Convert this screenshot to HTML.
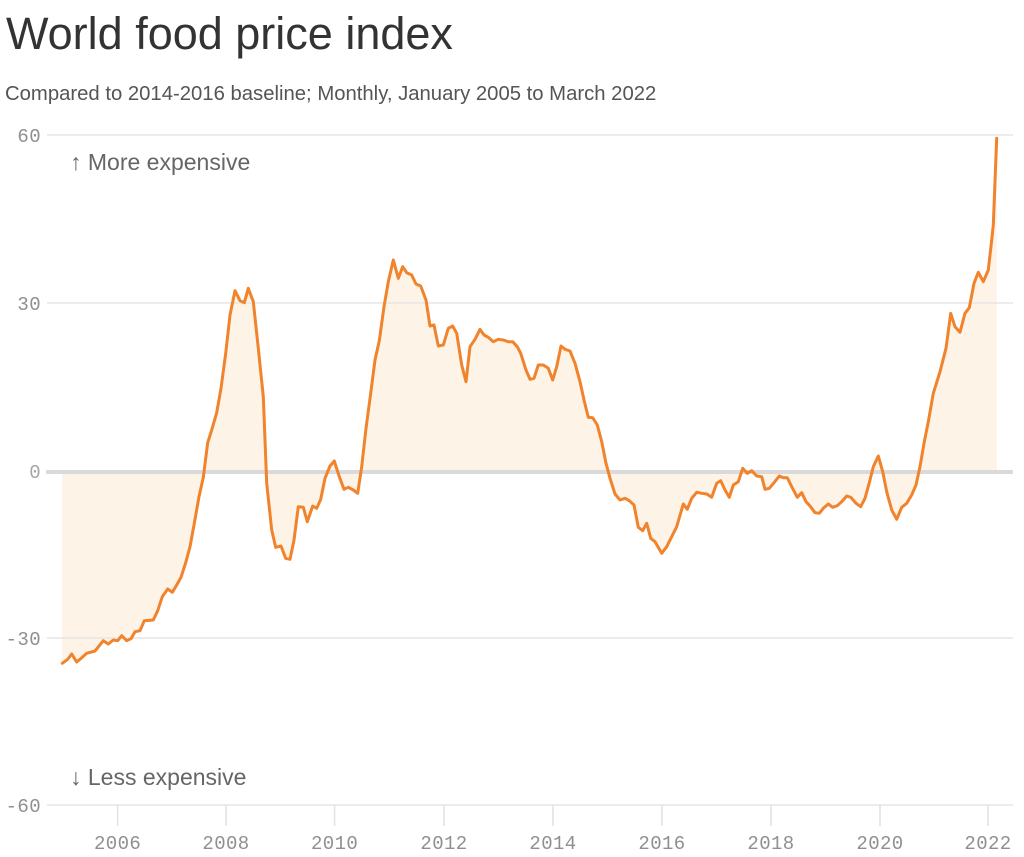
<!DOCTYPE html>
<html>
<head>
<meta charset="utf-8">
<style>
  html,body{margin:0;padding:0;background:#fff;}
  body{width:1024px;height:857px;overflow:hidden;position:relative;}
  svg{position:absolute;left:0;top:0;}
</style>
</head>
<body>
<svg width="1024" height="857" viewBox="0 0 1024 857" xmlns="http://www.w3.org/2000/svg">
  <text x="6" y="49" font-family="Liberation Sans, sans-serif" font-size="45" fill="#333">World food price index</text>
  <text x="5" y="100" font-family="Liberation Sans, sans-serif" font-size="20.3" fill="#555">Compared to 2014-2016 baseline; Monthly, January 2005 to March 2022</text>

  <!-- fill -->
  <path fill="#fdf3e7" d="M62.3,471 L62.3,663.3 L67.7,659.3 L71.7,654 L76.7,662 L81.7,657.7 L86.7,653.3 L95,651 L103.3,640.7 L108.3,644 L113.3,640 L117.7,640.7 L121.7,635.7 L126.7,640.7 L131,638.7 L135,631.7 L140,630.7 L144.3,620.7 L153.3,620 L157.7,610.7 L162.3,596.7 L167.7,589 L172.3,592.3 L176.7,585 L181,577.3 L185.7,562.7 L190,546.7 L194.3,523.3 L199,496.7 L203.3,477.3 L207.7,442.7 L211.7,430 L216.7,412.7 L221,388.3 L225.7,353.3 L230,315 L235,290.7 L240,300.7 L244.3,302.7 L248.3,288.3 L253.3,301.7 L258.3,348.3 L263.3,396.7 L266.7,483.3 L271.7,530 L275.7,547.3 L281,546 L285.7,558.3 L290,559.3 L294,540 L298.3,506.7 L303.3,507.3 L307.3,521.7 L312.7,506 L316.7,508.3 L320.7,499.3 L325,478.3 L330,466 L334.3,461 L339.3,476.7 L344,489.3 L348.3,487.3 L353.3,490 L357.7,493.3 L361.7,466.7 L366,428.3 L370.7,393.3 L375,360 L379.3,340.7 L384,306.7 L388.3,281.7 L393.3,260 L398.3,278.3 L402.7,266.7 L406.7,272.7 L411.7,275 L416,284 L420.7,286 L426,300 L430,326 L434,325 L438.3,346 L443.3,345 L448.3,328.3 L452.7,326 L456.7,333.3 L461.7,365 L466,381.7 L470,346.7 L475,339.3 L480,329.3 L484,335 L488.3,337.3 L493.3,341.7 L498.3,339.3 L503.3,340 L508.3,341.7 L512.7,341.7 L517.3,346.7 L520.7,353.3 L526,370 L530,379.3 L534,378.3 L538.3,365 L543.3,365 L548.3,368.3 L552.7,380 L556.7,366.7 L561,346 L565,349.3 L570,351 L575,363.3 L580,381.7 L584,400 L588.3,417.3 L592.7,417.7 L597.3,425 L601.7,441.7 L606,463.3 L610,478.3 L615,494 L620,500 L625,498.3 L629.3,500.7 L634,505 L638.3,527.3 L642.7,530.7 L646.7,523.3 L650.7,538.3 L655,541.7 L661.7,553.3 L666.7,546.7 L671.7,536.7 L676.7,526.7 L683.3,504 L687.3,509.3 L691.7,498.3 L696.7,492.3 L701.7,493.3 L706.7,494 L711.7,497.3 L716.7,483.3 L720.7,480.7 L725,490 L729.3,497.3 L733.3,485 L738.3,481.7 L742.7,468.3 L747.3,473.3 L751.7,470.7 L756.7,476 L761.7,476.7 L765,489.3 L769.3,488.3 L774,482.7 L779.3,476 L783.3,477.7 L787.3,477.7 L791.7,486.7 L797.3,497.3 L801.7,492.7 L806,501.7 L810,506 L815,512.7 L819.3,513.3 L823.3,508.3 L828.3,504 L832.7,507.3 L837.3,505.7 L841.7,501.7 L846.7,496 L850.7,497.3 L856,503.3 L860.7,506.7 L865,498.3 L869.3,482.7 L873.3,466.7 L878.3,456 L882.7,471.7 L886.7,491.7 L891.7,510 L896.7,519.3 L901.7,507.3 L906.7,503.3 L911.7,495 L916,485 L920,466.7 L924,443.3 L928.3,421.7 L933.3,393.3 L940,371.7 L946,348.3 L950.7,313.3 L955,326.7 L960,332.3 L965,313.3 L969.3,307.7 L974,283.3 L978.3,272.3 L983.3,281.7 L988.3,270 L991.7,240 L993.3,225 L996.7,138.3 L996.7,471 Z"/>

  <!-- gridlines -->
  <g stroke="#e6e6e6" stroke-width="1.6">
    <line x1="47" y1="135" x2="1013" y2="135"/>
    <line x1="47" y1="303" x2="1013" y2="303"/>
    <line x1="47" y1="638" x2="1013" y2="638"/>
    <line x1="47" y1="805" x2="1013" y2="805"/>
  </g>
  <line x1="46" y1="472" x2="1013" y2="472" stroke="#dadada" stroke-width="4"/>

  <!-- x ticks -->
  <g stroke="#e3e3e3" stroke-width="1.6">
    <line x1="117.6" y1="805" x2="117.6" y2="826"/>
    <line x1="226" y1="805" x2="226" y2="826"/>
    <line x1="334.6" y1="805" x2="334.6" y2="826"/>
    <line x1="444" y1="805" x2="444" y2="826"/>
    <line x1="553" y1="805" x2="553" y2="826"/>
    <line x1="662" y1="805" x2="662" y2="826"/>
    <line x1="771" y1="805" x2="771" y2="826"/>
    <line x1="880" y1="805" x2="880" y2="826"/>
    <line x1="988" y1="805" x2="988" y2="826"/>
  </g>

  <!-- y labels -->
  <g font-family="Liberation Mono, monospace" font-size="19" fill="#8f8f8f" text-anchor="end" letter-spacing="0.4">
    <text x="41" y="142">60</text>
    <text x="41" y="310">30</text>
    <text x="41" y="478" fill="#a5a5a5">0</text>
    <text x="41" y="645">-30</text>
    <text x="41" y="812">-60</text>
  </g>

  <!-- x labels -->
  <g font-family="Liberation Mono, monospace" font-size="19" fill="#8f8f8f" text-anchor="middle" letter-spacing="0.4">
    <text x="117.6" y="849">2006</text>
    <text x="226" y="849">2008</text>
    <text x="334.6" y="849">2010</text>
    <text x="444" y="849">2012</text>
    <text x="553" y="849">2014</text>
    <text x="662" y="849">2016</text>
    <text x="771" y="849">2018</text>
    <text x="880" y="849">2020</text>
    <text x="988" y="849">2022</text>
  </g>

  <!-- annotations -->
  <text x="70" y="170" font-family="Liberation Sans, sans-serif" font-size="23" fill="#666">↑ More expensive</text>
  <text x="70" y="785" font-family="Liberation Sans, sans-serif" font-size="23" fill="#666">↓ Less expensive</text>

  <!-- line -->
  <polyline fill="none" stroke="#f0832b" stroke-width="3" stroke-linejoin="round" stroke-linecap="round" points="62.3,663.3 67.7,659.3 71.7,654 76.7,662 81.7,657.7 86.7,653.3 95,651 103.3,640.7 108.3,644 113.3,640 117.7,640.7 121.7,635.7 126.7,640.7 131,638.7 135,631.7 140,630.7 144.3,620.7 153.3,620 157.7,610.7 162.3,596.7 167.7,589 172.3,592.3 176.7,585 181,577.3 185.7,562.7 190,546.7 194.3,523.3 199,496.7 203.3,477.3 207.7,442.7 211.7,430 216.7,412.7 221,388.3 225.7,353.3 230,315 235,290.7 240,300.7 244.3,302.7 248.3,288.3 253.3,301.7 258.3,348.3 263.3,396.7 266.7,483.3 271.7,530 275.7,547.3 281,546 285.7,558.3 290,559.3 294,540 298.3,506.7 303.3,507.3 307.3,521.7 312.7,506 316.7,508.3 320.7,499.3 325,478.3 330,466 334.3,461 339.3,476.7 344,489.3 348.3,487.3 353.3,490 357.7,493.3 361.7,466.7 366,428.3 370.7,393.3 375,360 379.3,340.7 384,306.7 388.3,281.7 393.3,260 398.3,278.3 402.7,266.7 406.7,272.7 411.7,275 416,284 420.7,286 426,300 430,326 434,325 438.3,346 443.3,345 448.3,328.3 452.7,326 456.7,333.3 461.7,365 466,381.7 470,346.7 475,339.3 480,329.3 484,335 488.3,337.3 493.3,341.7 498.3,339.3 503.3,340 508.3,341.7 512.7,341.7 517.3,346.7 520.7,353.3 526,370 530,379.3 534,378.3 538.3,365 543.3,365 548.3,368.3 552.7,380 556.7,366.7 561,346 565,349.3 570,351 575,363.3 580,381.7 584,400 588.3,417.3 592.7,417.7 597.3,425 601.7,441.7 606,463.3 610,478.3 615,494 620,500 625,498.3 629.3,500.7 634,505 638.3,527.3 642.7,530.7 646.7,523.3 650.7,538.3 655,541.7 661.7,553.3 666.7,546.7 671.7,536.7 676.7,526.7 683.3,504 687.3,509.3 691.7,498.3 696.7,492.3 701.7,493.3 706.7,494 711.7,497.3 716.7,483.3 720.7,480.7 725,490 729.3,497.3 733.3,485 738.3,481.7 742.7,468.3 747.3,473.3 751.7,470.7 756.7,476 761.7,476.7 765,489.3 769.3,488.3 774,482.7 779.3,476 783.3,477.7 787.3,477.7 791.7,486.7 797.3,497.3 801.7,492.7 806,501.7 810,506 815,512.7 819.3,513.3 823.3,508.3 828.3,504 832.7,507.3 837.3,505.7 841.7,501.7 846.7,496 850.7,497.3 856,503.3 860.7,506.7 865,498.3 869.3,482.7 873.3,466.7 878.3,456 882.7,471.7 886.7,491.7 891.7,510 896.7,519.3 901.7,507.3 906.7,503.3 911.7,495 916,485 920,466.7 924,443.3 928.3,421.7 933.3,393.3 940,371.7 946,348.3 950.7,313.3 955,326.7 960,332.3 965,313.3 969.3,307.7 974,283.3 978.3,272.3 983.3,281.7 988.3,270 991.7,240 993.3,225 996.7,138.3"/>
</svg>
</body>
</html>
